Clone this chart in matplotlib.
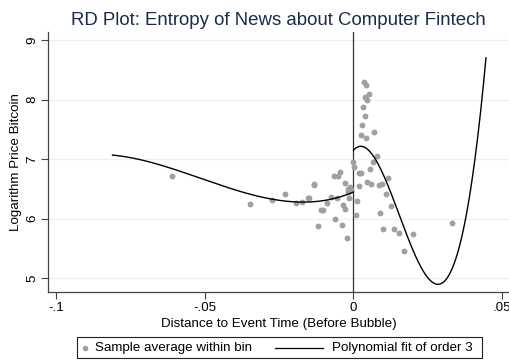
import numpy as np
import matplotlib
matplotlib.use('Agg')
import matplotlib.pyplot as plt
from matplotlib.lines import Line2D
from matplotlib.patches import Rectangle

plt.rcParams['font.family'] = ['Liberation Sans', 'DejaVu Sans']

# bin averages
bin_x = [-0.0609, -0.0348, -0.0275, -0.0232, -0.0194, -0.0174, -0.0152, -0.0133,
         -0.0121, -0.0110, -0.0101, -0.0149, -0.0132, -0.0090, -0.0076, -0.0067,
         -0.0061, -0.0054, -0.0051, -0.0045, -0.0039, -0.0034, -0.0030, -0.0027,
         -0.0022, -0.0020, -0.0015, -0.0013, -0.0010, -0.0020, -0.0008, 0.0000,
         0.0003, 0.0008, 0.0012, 0.0017, 0.0020, 0.0025, 0.0027, 0.0030,
         0.0033, 0.0034, 0.0039, 0.0039, 0.0042, 0.0042, 0.0045, 0.0045,
         0.0051, 0.0056, 0.0060, 0.0065, 0.0070, 0.0079, 0.0087, 0.0091,
         0.0097, 0.0101, 0.0108, 0.0116, 0.0126, 0.0138, 0.0152, 0.0170,
         0.0199, 0.0331]
bin_y = [6.71, 6.24, 6.32, 6.42, 6.27, 6.28, 6.34, 6.58,
         5.88, 6.14, 6.15, 6.34, 6.57, 6.26, 6.37, 6.71,
         6.00, 6.35, 6.72, 6.78, 5.90, 6.23, 6.16, 6.60,
         5.68, 6.50, 6.34, 6.54, 6.50, 6.45, 6.48, 6.96,
         6.87, 6.07, 6.29, 6.77, 6.55, 6.76, 7.41, 7.57,
         7.88, 8.30, 7.72, 8.05, 8.245, 7.36, 8.00, 6.62,
         8.09, 6.84, 6.59, 6.96, 7.46, 7.06, 6.57, 6.09,
         6.58, 5.82, 6.42, 6.69, 6.22, 5.82, 5.76, 5.46,
         5.745, 5.93]

# points along the order-3 fits, left and right of the cutoff
left_fit_x = [-0.0811, -0.065, -0.0483, -0.0314, -0.0213, -0.018, -0.0079, 0.0]
left_fit_y = [7.07, 6.90, 6.61, 6.41, 6.27, 6.26, 6.33, 6.45]
right_fit_x = [0.0, 0.0023, 0.0073, 0.0146, 0.016, 0.0286, 0.0446]
right_fit_y = [7.156, 7.20, 7.02, 6.16, 5.99, 4.90, 8.70]

xticks = [-0.1, -0.05, 0, 0.05]
xtick_labels = ['-.1', '-.05', '0', '.05']
yticks = [5, 6, 7, 8, 9]

fig = plt.figure(figsize=(5.09, 3.6), dpi=100)
ax = fig.add_axes([0.0943, 0.189, 0.906, 0.722])

dot_color = '#a0a0a0'
ax.scatter(bin_x, bin_y, s=18, color=dot_color, linewidths=0, zorder=3)

for fx, fy in [(left_fit_x, left_fit_y), (right_fit_x, right_fit_y)]:
    c = np.polyfit(fx, fy, 3)
    xs = np.linspace(fx[0], fx[-1], 200)
    ax.plot(xs, np.polyval(c, xs), color='black', lw=1.0, zorder=4)

ax.axvline(0, color='#333333', lw=0.9, zorder=2)

fs = 9.6
ax.set_xlim(-0.1028, 0.0524)
ax.set_ylim(4.77, 9.134)
ax.set_xticks(xticks)
ax.set_xticklabels(xtick_labels)
ax.set_yticks(yticks)
ax.grid(axis='y', color='#eaf2f3', lw=0.9)
ax.set_axisbelow(True)
for s in ['top', 'right']:
    ax.spines[s].set_visible(False)
for s in ['left', 'bottom']:
    ax.spines[s].set_color('#444444')
    ax.spines[s].set_linewidth(0.9)
ax.tick_params(axis='both', colors='#444444', labelcolor='black', labelsize=fs,
               length=5, width=0.8)
ax.tick_params(axis='x', pad=2)
ax.tick_params(axis='y', labelrotation=90, pad=2)
for lab in ax.get_yticklabels():
    lab.set_va('center')

ax.set_xlabel('Distance to Event Time (Before Bubble)', fontsize=fs, labelpad=3)
ax.set_ylabel('Logarithm Price Bitcoin', fontsize=fs, labelpad=3)
ax.set_title('RD Plot: Entropy of News about Computer Fintech', fontsize=13.4,
             color='#1a2b4c', pad=5)

# legend box
W, H = 509.0, 360.0
fig.patches.append(Rectangle((77 / W, 1 - 358 / H), 405 / W, 21 / H,
                             transform=fig.transFigure, fill=False,
                             edgecolor='#222222', lw=0.8))
fig.lines.append(Line2D([85 / W], [1 - 348 / H], transform=fig.transFigure,
                        marker='o', ms=4, color=dot_color, mec='none', ls=''))
fig.text(95 / W, 1 - 348 / H, 'Sample average within bin', fontsize=fs, va='center')
fig.lines.append(Line2D([275 / W, 323 / W], [1 - 348 / H, 1 - 348 / H],
                        transform=fig.transFigure, color='black', lw=0.9))
fig.text(332 / W, 1 - 348 / H, 'Polynomial fit of order 3', fontsize=fs, va='center')

fig.savefig('out.png', dpi=100)
